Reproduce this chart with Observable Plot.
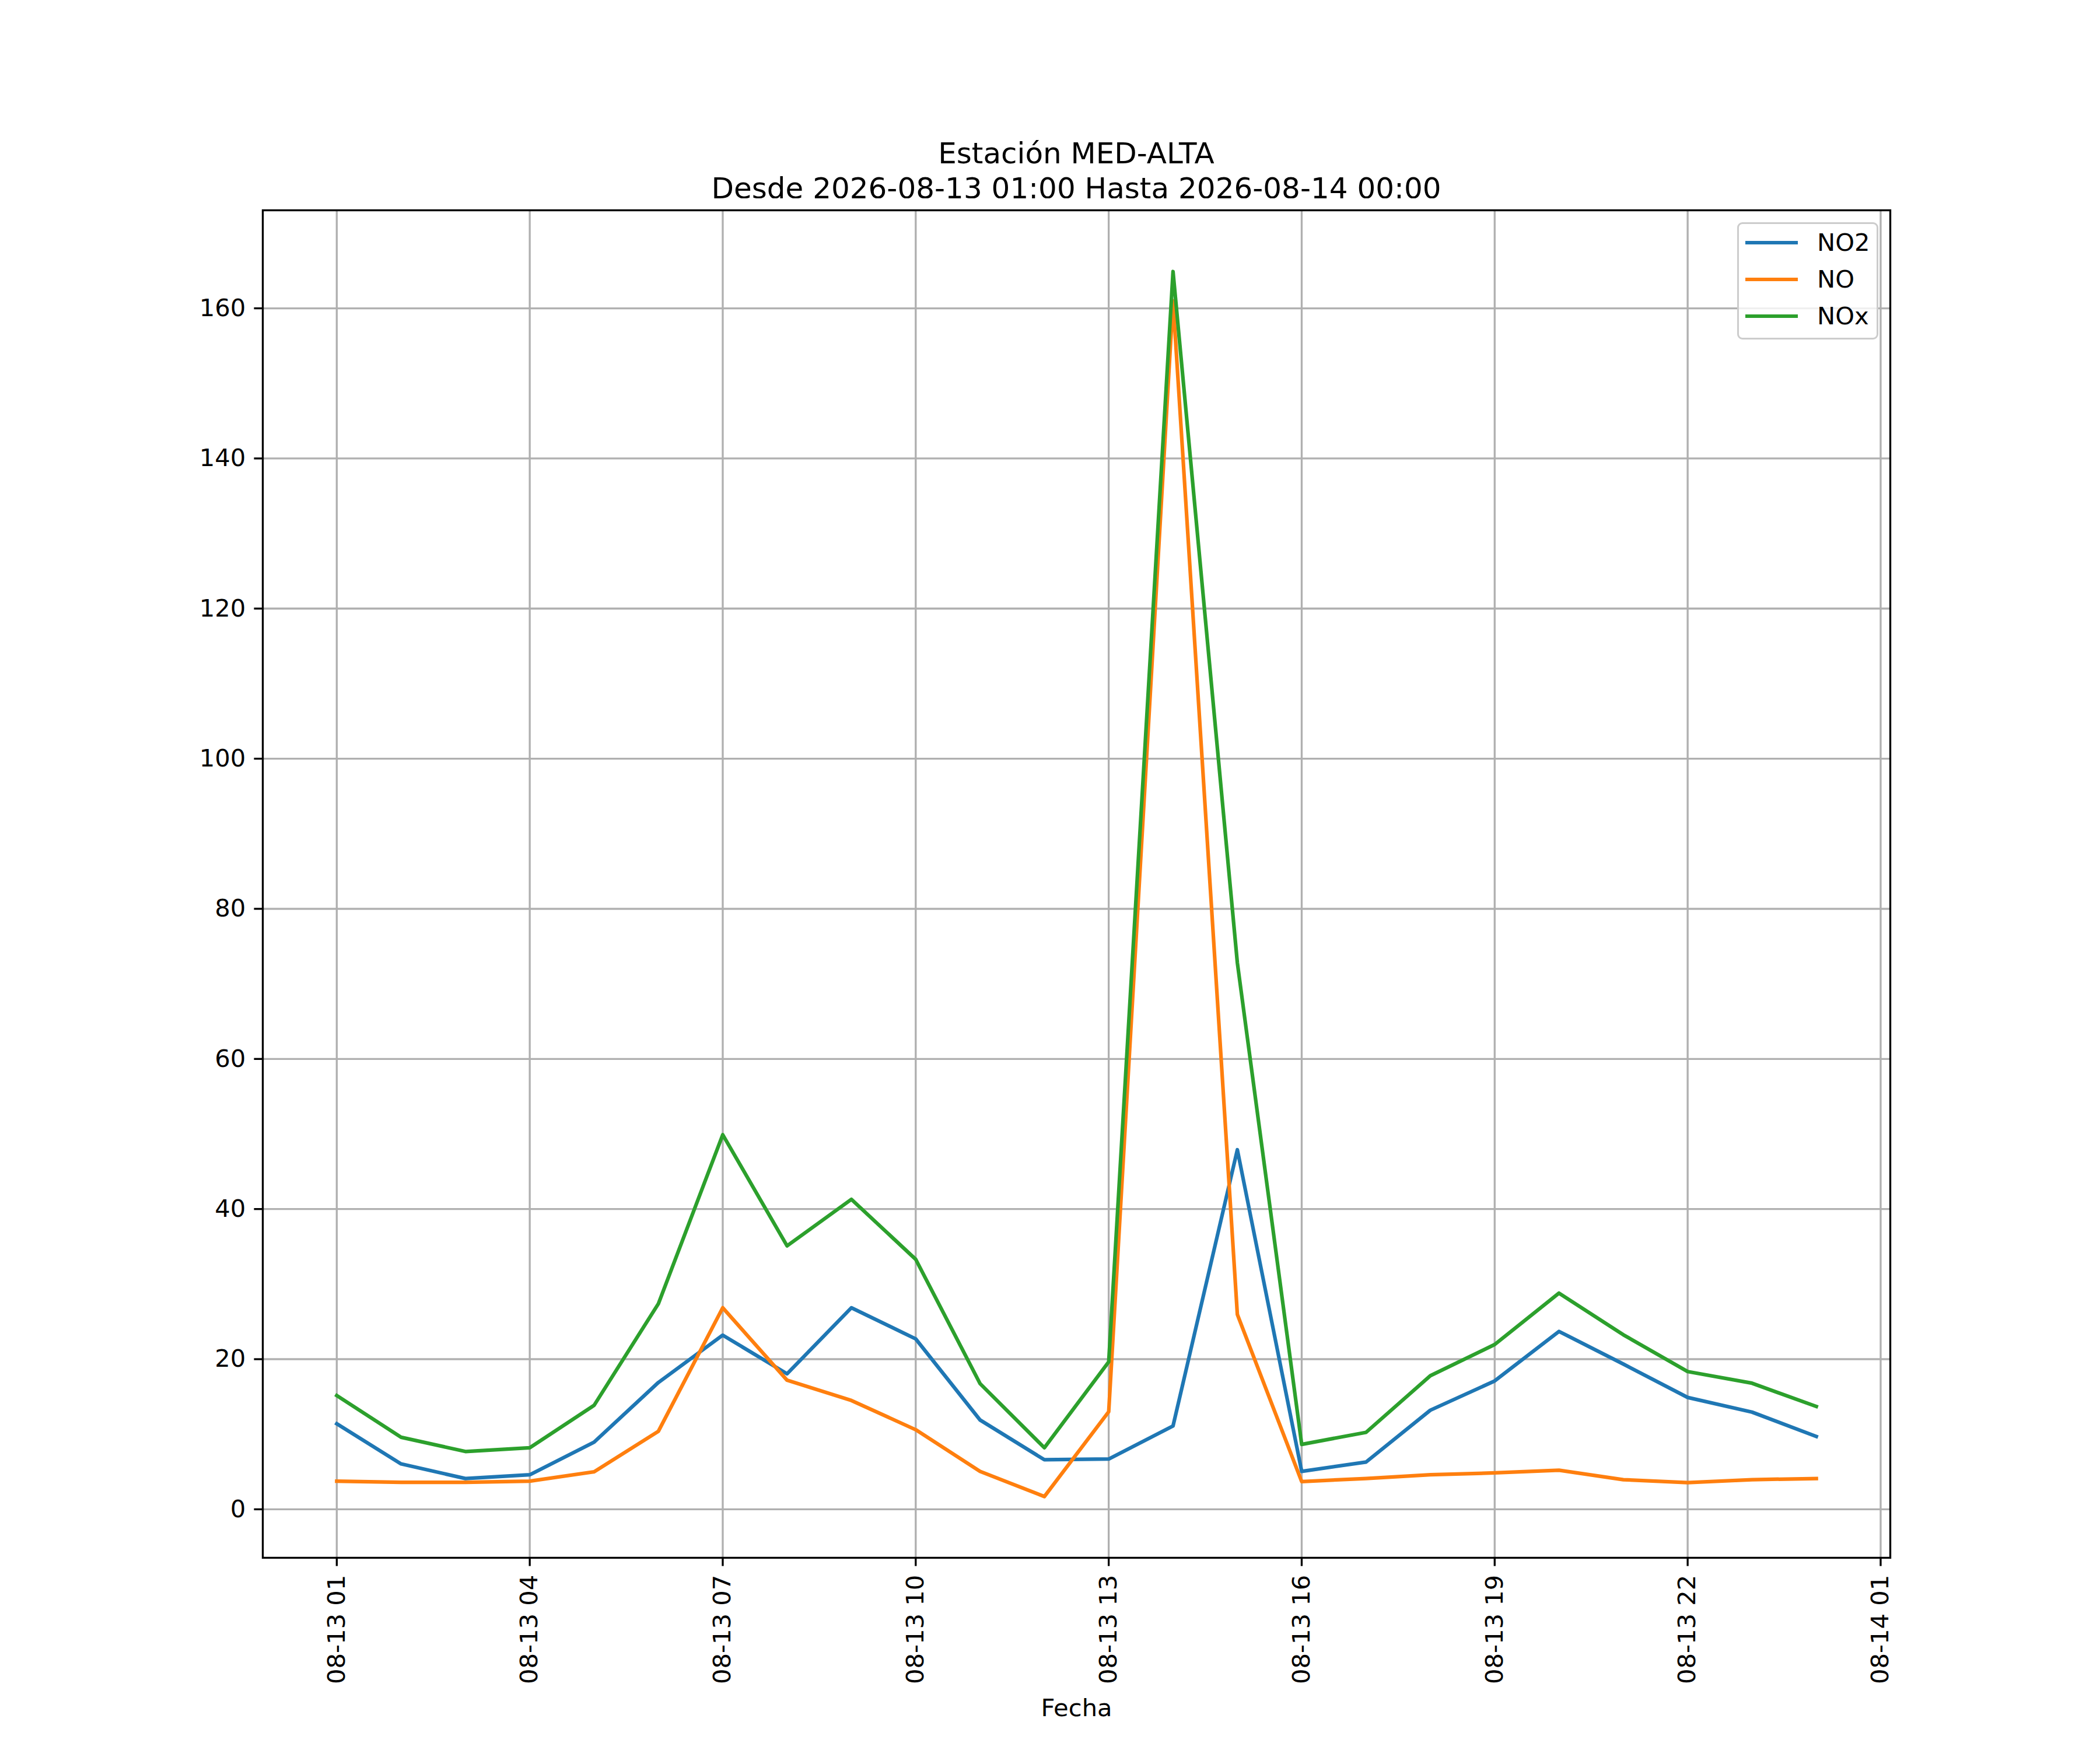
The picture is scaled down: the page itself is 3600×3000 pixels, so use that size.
<!DOCTYPE html>
<html>
<head>
<meta charset="utf-8">
<script src="https://cdn.jsdelivr.net/npm/d3@7"></script>
<script src="https://cdn.jsdelivr.net/npm/@observablehq/plot@0.6"></script>
<style>
  html, body { margin: 0; padding: 0; background: #fff; }
  #fig { position: relative; width: 3600px; height: 3000px; background: #fff; font-family: "DejaVu Sans", sans-serif; color: #000; overflow: hidden; }
  #title { position: absolute; left: 450px; width: 2790px; top: 233px; text-align: center; font-size: 50px; line-height: 60px; white-space: pre; }
  #chart { position: absolute; left: 0; top: 340px; }
  #legend { position: absolute; left: 2978px; top: 381px; width: 242px; height: 201px; box-sizing: border-box;
            border: 3.33px solid #cccccc; border-radius: 9px; background: rgba(255,255,255,0.8); }
  .sw { position: absolute; left: 11px; width: 90px; height: 6.25px; }
  .lt { position: absolute; left: 134px; font-size: 41.67px; line-height: 50px; white-space: nowrap; }
</style>
</head>
<body>
<div id="fig">
  <div id="title"></div>
  <div id="chart"></div>
  <div id="legend"></div>
</div>
<script>
// ---- data ----
const titleLines = ["Estación MED-ALTA", "Desde 2026-08-13 01:00 Hasta 2026-08-14 00:00"];
const xLabel = "Fecha";
const times = [
  "2026-08-13T01:00Z", "2026-08-13T02:00Z", "2026-08-13T03:00Z", "2026-08-13T04:00Z",
  "2026-08-13T05:00Z", "2026-08-13T06:00Z", "2026-08-13T07:00Z", "2026-08-13T08:00Z",
  "2026-08-13T09:00Z", "2026-08-13T10:00Z", "2026-08-13T11:00Z", "2026-08-13T12:00Z",
  "2026-08-13T13:00Z", "2026-08-13T14:00Z", "2026-08-13T15:00Z", "2026-08-13T16:00Z",
  "2026-08-13T17:00Z", "2026-08-13T18:00Z", "2026-08-13T19:00Z", "2026-08-13T20:00Z",
  "2026-08-13T21:00Z", "2026-08-13T22:00Z", "2026-08-13T23:00Z", "2026-08-14T00:00Z"
];
const NO2 = [11.4, 6.05, 4.1, 4.6, 8.95, 16.9, 23.2, 18.05, 26.85, 22.7, 11.9, 6.6,
             6.7, 11.1, 47.9, 5.05, 6.3, 13.2, 17.1, 23.7, 19.35, 14.9, 12.95, 9.7];
const NO  = [3.75, 3.6, 3.6, 3.75, 5.0, 10.4, 26.85, 17.2, 14.5, 10.6, 5.05, 1.7,
             13.0, 161.0, 25.95, 3.7, 4.1, 4.6, 4.85, 5.2, 3.95, 3.55, 3.95, 4.1];
const NOx = [15.15, 9.6, 7.7, 8.2, 13.85, 27.4, 49.9, 35.1, 41.3, 33.3, 16.75, 8.2,
             19.65, 164.9, 72.8, 8.65, 10.25, 17.8, 21.95, 28.8, 23.25, 18.35, 16.8, 13.7];
const seriesNames = ["NO2", "NO", "NOx"];
const seriesColors = ["#1f77b4", "#ff7f0e", "#2ca02c"];
const xTicks = [
  "2026-08-13T01:00Z", "2026-08-13T04:00Z", "2026-08-13T07:00Z", "2026-08-13T10:00Z",
  "2026-08-13T13:00Z", "2026-08-13T16:00Z", "2026-08-13T19:00Z", "2026-08-13T22:00Z",
  "2026-08-14T01:00Z"
];
const yTicks = [0, 20, 40, 60, 80, 100, 120, 140, 160];

// ---- build ----
const seriesValues = [NO2, NO, NOx];
const rows = [];
seriesNames.forEach((name, s) => {
  times.forEach((t, i) => rows.push({time: new Date(t), value: seriesValues[s][i], series: name}));
});
const xTickDates = xTicks.map(t => new Date(t));

// matplotlib-like 5% margins
const tExt = d3.extent(rows, d => +d.time);
const tPad = (tExt[1] - tExt[0]) * 0.05;
const vExt = d3.extent(rows, d => d.value);
const vPad = (vExt[1] - vExt[0]) * 0.05;

document.getElementById("title").textContent = titleLines.join("\n");

const lw = 3.33;
const chart = Plot.plot({
  width: 3600,
  height: 2660,
  marginLeft: 450,
  marginRight: 360,
  marginTop: 20,
  marginBottom: 330,
  style: {fontFamily: "DejaVu Sans", fontSize: "41.67px", color: "#000", background: "#fff", overflow: "visible"},
  x: {type: "utc", domain: [new Date(tExt[0] - tPad), new Date(tExt[1] + tPad)]},
  y: {domain: [vExt[0] - vPad, vExt[1] + vPad]},
  color: {domain: seriesNames, range: seriesColors},
  marks: [
    Plot.gridX(xTickDates, {stroke: "#b0b0b0", strokeOpacity: 1, strokeWidth: lw}),
    Plot.gridY(yTicks, {stroke: "#b0b0b0", strokeOpacity: 1, strokeWidth: lw}),
    Plot.line(rows, {x: "time", y: "value", z: "series", stroke: "series",
                     strokeWidth: 6.25, strokeLinejoin: "round", strokeLinecap: "square"}),
    Plot.axisX(xTickDates, {
      tickFormat: d3.utcFormat("%m-%d %H"), tickRotate: -90,
      tickSize: 14.6, tickPadding: 14.6, strokeWidth: lw, fontSize: 41.67,
      label: xLabel, labelAnchor: "center", labelArrow: "none", labelOffset: 271
    }),
    Plot.axisY(yTicks, {tickSize: 14.6, tickPadding: 14.6, strokeWidth: lw, fontSize: 41.67, label: null}),
    Plot.frame({stroke: "#000", strokeWidth: lw})
  ]
});
document.getElementById("chart").appendChild(chart);

// legend
const legend = document.getElementById("legend");
const rowCenters = [32, 95, 158];
seriesNames.forEach((name, i) => {
  const sw = document.createElement("div");
  sw.className = "sw";
  sw.style.background = seriesColors[i];
  sw.style.top = (rowCenters[i] - 3.1) + "px";
  legend.appendChild(sw);
  const lt = document.createElement("div");
  lt.className = "lt";
  lt.textContent = name;
  lt.style.top = (rowCenters[i] - 25) + "px";
  legend.appendChild(lt);
});
</script>
</body>
</html>
